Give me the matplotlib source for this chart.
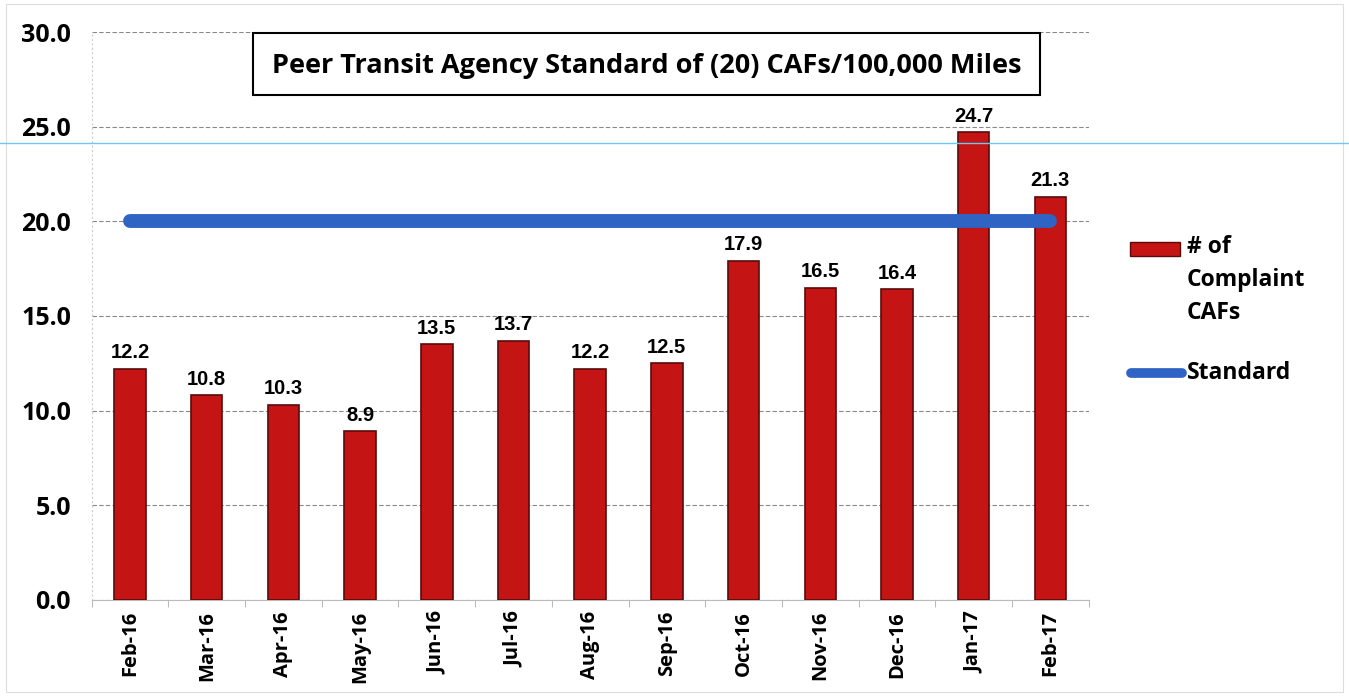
from matplotlib import pyplot as plt
from matplotlib.lines import Line2D
from matplotlib.patches import Rectangle
import numpy as np

plt.rcParams['font.family'] = ['Open Sans', 'DejaVu Sans']

months = ['Feb-16', 'Mar-16', 'Apr-16', 'May-16', 'Jun-16', 'Jul-16', 'Aug-16',
          'Sep-16', 'Oct-16', 'Nov-16', 'Dec-16', 'Jan-17', 'Feb-17']
cafs = [12.2, 10.8, 10.3, 8.9, 13.5, 13.7, 12.2, 12.5, 17.9, 16.5, 16.4, 24.7, 21.3]
standard = [20] * len(months)

W, H = 1349, 696
fig = plt.figure(figsize=(W / 100, H / 100), dpi=100)
ax = fig.add_axes([0.068, 0.138, 0.739, 0.816])

red = '#C41414'
blue = '#2F63C4'
x = np.arange(len(months))
ax.bar(x, cafs, width=0.41, color=red, edgecolor='#5A0A0A', linewidth=1.2, zorder=3)
ax.plot(x, standard, color=blue, linewidth=10, solid_capstyle='round', zorder=4)

for xi, v in zip(x, cafs):
    ax.text(xi, v + 0.35, f'{v:.1f}', ha='center', va='bottom', fontsize=14.5,
            fontweight='bold', family=['Liberation Sans'])

ax.set_xlim(-0.5, len(months) - 0.5)
ax.set_ylim(0, 30)
ticks = np.arange(0, 31, 5)
ax.set_yticks(ticks)
ax.set_yticklabels([f'{t:.1f}' for t in ticks], fontsize=18, fontweight='bold')
ax.set_xticks(x)
ax.set_xticklabels(months, rotation=90, fontsize=14.5, fontweight='bold')
ax.set_xticks(np.arange(-0.5, len(months)), minor=True)
ax.tick_params(axis='y', length=0, pad=15)
ax.tick_params(axis='x', which='major', length=0, pad=8)
ax.tick_params(axis='x', which='minor', length=5, color='#BBBBBB', width=0.8)
ax.yaxis.grid(True, linestyle=(0, (4, 2)), color='#888888', linewidth=0.8, zorder=0)
for s in ['top', 'right']:
    ax.spines[s].set_visible(False)
ax.spines['left'].set_color('#CCCCCC')
ax.spines['left'].set_linestyle((0, (1, 3)))
ax.spines['bottom'].set_color('#BBBBBB')

# title box
fig.add_artist(Rectangle((253 / W, 1 - 95 / H), (1040 - 253) / W, 62 / H,
                         transform=fig.transFigure, facecolor='white',
                         edgecolor='black', linewidth=1.5, zorder=6))
fig.text((253 + 1040) / 2 / W, 1 - 66 / H,
         'Peer Transit Agency Standard of (20) CAFs/100,000 Miles',
         ha='center', va='center', fontsize=19.5, fontweight='bold', zorder=7)

# legend
fig.add_artist(Rectangle((1130 / W, 1 - 256 / H), 50 / W, 14 / H, transform=fig.transFigure,
                         facecolor=red, edgecolor='#5A0A0A', linewidth=1))
fig.text(1187 / W, 1 - 235 / H, '# of\nComplaint\nCAFs', ha='left', va='top',
         fontsize=16.5, fontweight='bold', linespacing=1.5)
fig.add_artist(Line2D([1131 / W, 1182 / W], [1 - 373 / H] * 2, color=blue, linewidth=7,
                      solid_capstyle='round', transform=fig.transFigure))
fig.text(1187 / W, 1 - 373 / H, 'Standard', ha='left', va='center',
         fontsize=16.5, fontweight='bold')

# scan artefact line and faint page frame
fig.add_artist(Line2D([0, 1], [1 - 143 / H] * 2, color='#6CC8F0', linewidth=1.0,
                      transform=fig.transFigure))
fig.add_artist(Rectangle((6 / W, 4 / H), (W - 12) / W, (H - 8) / H, transform=fig.transFigure,
                         facecolor='none', edgecolor='#DDDDDD', linewidth=0.8))

fig.savefig('out.png', dpi=100)
